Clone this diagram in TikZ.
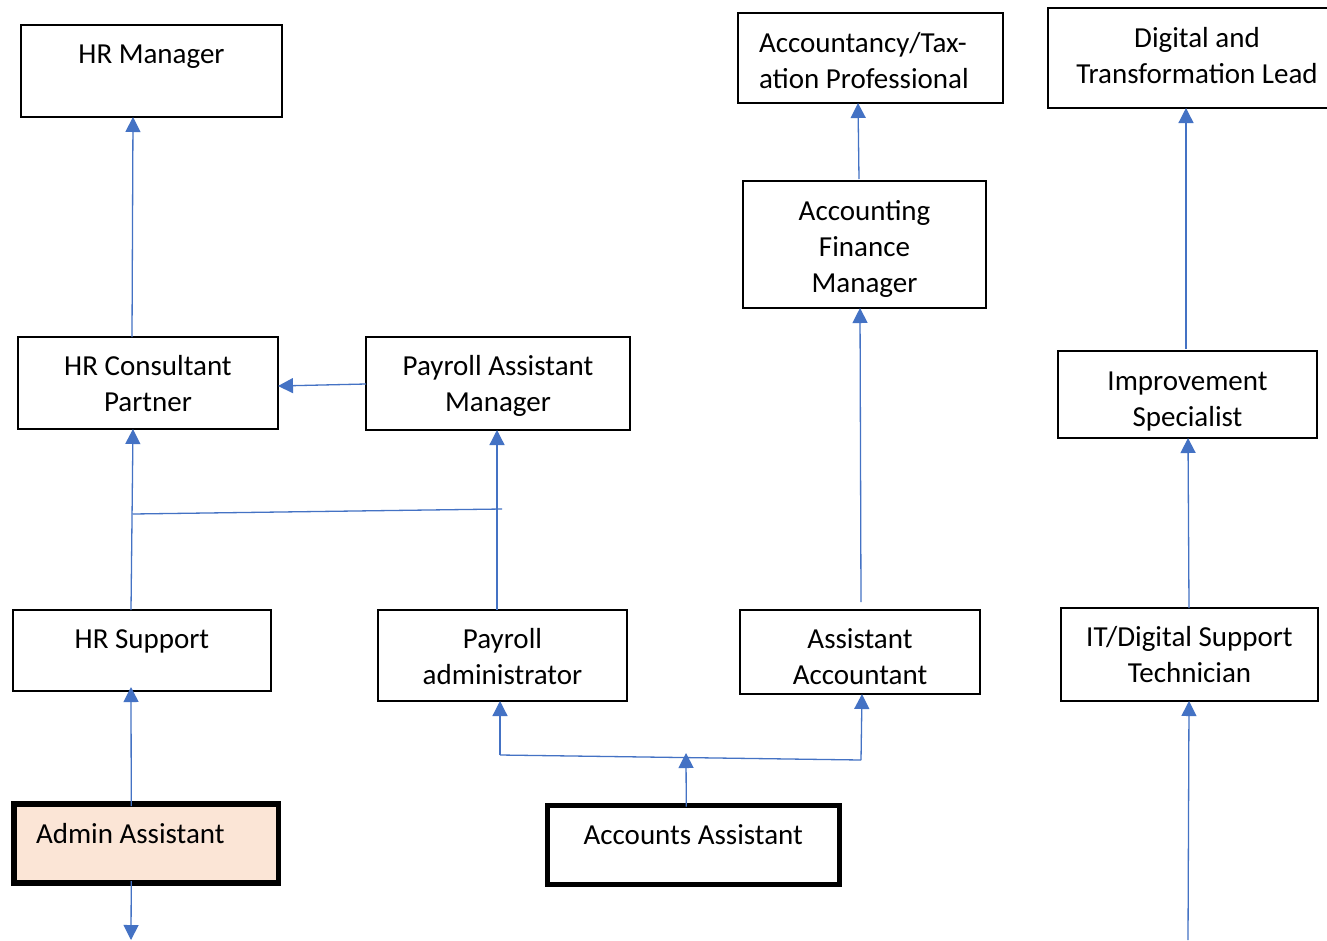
\documentclass[tikz,border=0pt]{standalone}
\usepackage{fontspec}
\setmainfont{Carlito}
\usetikzlibrary{arrows.meta}
\definecolor{lnblue}{HTML}{4472C4}
\definecolor{peach}{HTML}{FBE5D6}
\tikzset{
  box/.style={draw=black, line width=1.3pt, inner sep=0pt, outer sep=0pt, rectangle,
    font=\fontsize{29}{36}\selectfont},
  heavy/.style={line width=2.4pt},
  heavier/.style={line width=5pt},
  heaviest/.style={line width=5.5pt},
  arr/.style={draw=lnblue, line width=1.3pt, -{Triangle[width=15pt,length=15pt]}},
  lnk/.style={draw=lnblue, line width=1.3pt},
}
% \mkbox[style]{name}{x}{y}{w}{h}{first-baseline}{text}
\newcommand\mkbox[8][]{%
  \node[box,#1,anchor=north west] (#2) at (#3,#4)
    {\parbox[t][#6pt][t]{#5pt}{\centering\rule{0pt}{#7pt}#8}};}
\begin{document}
\begin{tikzpicture}[x=1pt,y=-1pt]
\clip (0,0) rectangle (1327,940);
\fill[white] (0,0) rectangle (1327,940);

\mkbox{hrm}{21}{25}{261}{92}{38}{HR Manager}
\mkbox{acc}{738}{13}{265}{90}{39}{\raggedright\leftskip=21pt Accountancy/Tax-\\ation Professional}
\mkbox[heavy]{dig}{1048}{8}{298}{100}{39}{Digital and\\Transformation Lead}
\mkbox[heavy]{afm}{743}{181}{243}{127}{39}{Accounting\\Finance\\Manager}
\mkbox{hrc}{18}{337}{260}{92}{38}{HR Consultant\\Partner}
\mkbox{pam}{366}{337}{264}{93}{38}{Payroll Assistant\\Manager}
\mkbox{imp}{1058}{351}{259}{87}{39}{Improvement\\Specialist}
\mkbox{hrs}{13}{610}{258}{81}{38}{HR Support}
\mkbox{pad}{378}{610}{249}{91}{38}{Payroll\\administrator}
\mkbox{asa}{740}{610}{240}{84}{38}{Assistant\\Accountant}
\mkbox{itd}{1061}{608}{257}{93}{38}{IT/Digital Support\\Technician}
\mkbox[heaviest,fill=peach]{adm}{14}{804}{264.5}{79}{39}{\raggedright\leftskip=22pt Admin Assistant}
\mkbox[heavier]{aca}{547.5}{805.5}{291.5}{79}{38.5}{Accounts Assistant}

% free ends and junctions
\coordinate (j1) at (132.5,514);
\coordinate (j2) at (502,509);
\coordinate (j3) at (686,753);
\coordinate (j4) at (500,755);
\coordinate (j5) at (861,760);
\coordinate (e1) at (131,940);
\coordinate (e2) at (1188,940);

% connectors
\draw[arr] ([xshift=-16pt]hrc.north) -- ([xshift=-18.5pt]hrm.south);
\draw[arr] ([yshift=-0.5pt]pam.west) -- ([yshift=-3pt]hrc.east);
\draw[arr] ([xshift=-11pt]hrs.north) -- ([xshift=-15pt]hrc.south);
\draw[lnk] (j1) -- (j2);
\draw[arr] ([xshift=-5.5pt]pad.north) -- ([xshift=-1pt]pam.south);
\draw[arr] ([xshift=-15pt,yshift=-2pt]adm.north) -- ([xshift=-11pt,yshift=4pt]hrs.south);
\draw[arr] ([xshift=-15pt,yshift=2pt]adm.south) -- (e1);
\draw[arr] ([xshift=-7pt,yshift=-1pt]aca.north) -- (j3);
\draw[lnk] (j4) -- (j5);
\draw[arr] (j4) -- ([xshift=-2.5pt]pad.south);
\draw[arr] (j5) -- ([xshift=2pt]asa.south);
\draw[arr] ([xshift=1pt,yshift=8pt]asa.north) -- ([xshift=-4.5pt]afm.south);
\draw[arr] ([xshift=-5.5pt,yshift=2pt]afm.north) -- ([xshift=-12.5pt]acc.south);
\draw[arr] ([xshift=-1.5pt,yshift=2pt]imp.north) -- ([xshift=-11pt]dig.south);
\draw[arr] ([xshift=-0.5pt]itd.north) -- ([xshift=0.5pt]imp.south);
\draw[arr] (e2) -- ([xshift=-0.5pt]itd.south);
\end{tikzpicture}
\end{document}
